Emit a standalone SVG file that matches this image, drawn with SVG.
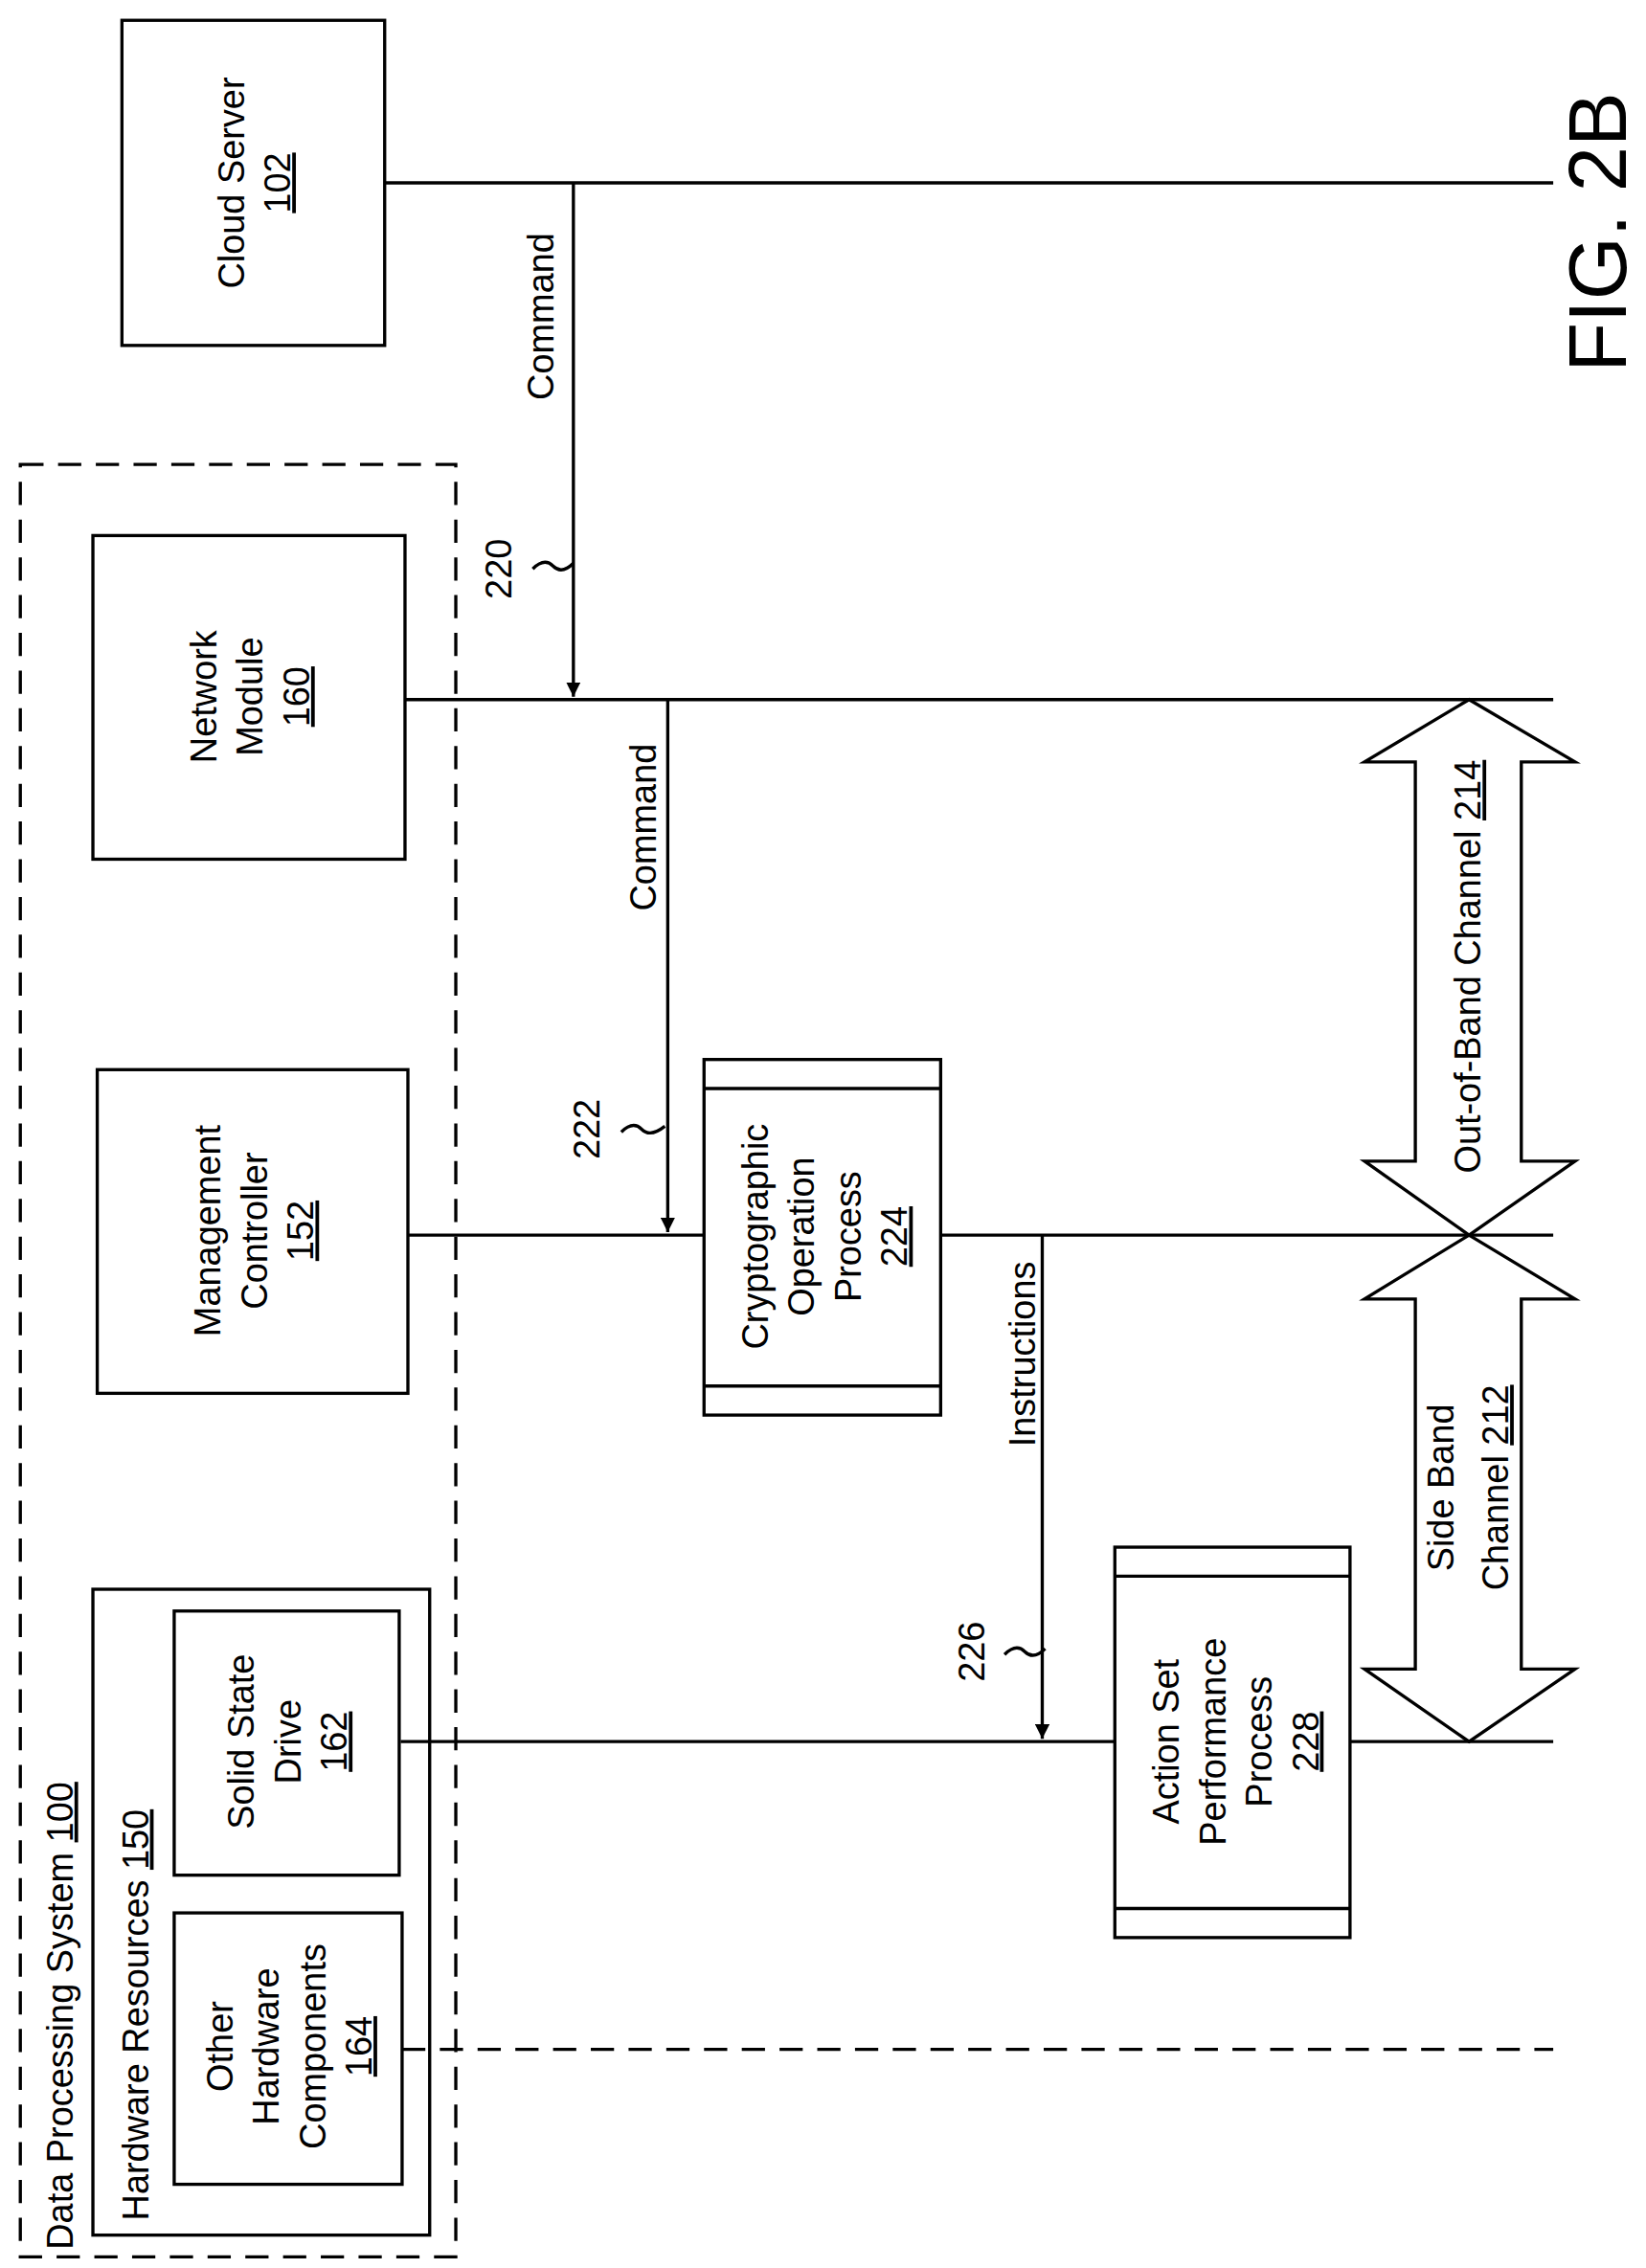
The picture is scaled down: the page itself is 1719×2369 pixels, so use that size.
<svg xmlns="http://www.w3.org/2000/svg" width="1719" height="2369" viewBox="0 0 1719 2369">
<style>
.b{fill:#fff;stroke:#000;stroke-width:2.2}
.l{fill:none;stroke:#000;stroke-width:2.2}
.d{fill:none;stroke:#000;stroke-width:2.2;stroke-dasharray:16 10}
text{font-family:"Liberation Sans",Arial,sans-serif;font-size:25px;fill:#000;text-anchor:middle}
.u{text-decoration:underline}
</style>
<defs><marker id="a" viewBox="0 0 10 10" refX="10" refY="5" markerWidth="10" markerHeight="10" markerUnits="userSpaceOnUse" orient="auto"><path d="M0,0 L10,5 L0,10 z"/></marker></defs>
<rect width="1719" height="2369" fill="#fff"/>
<g transform="scale(1.516)">
<g id="dps"><rect class="d" x="14" y="320" width="300" height="1235"/>
<text transform="translate(50,1555) rotate(-90)" style="text-anchor:start" x="5">Data Processing System <tspan class="u">100</tspan></text></g>
<g id="cloud"><rect class="b" x="84" y="14" width="181" height="224"/>
<text transform="translate(174,126) rotate(-90)"><tspan x="0" dy="-6">Cloud Server</tspan><tspan x="0" dy="32" class="u">102</tspan></text></g>
<g id="netmod"><rect class="b" x="64" y="369" width="215" height="223"/>
<text transform="translate(171,480) rotate(-90)"><tspan x="0" dy="-22">Network</tspan><tspan x="0" dy="32">Module</tspan><tspan x="0" dy="32" class="u">160</tspan></text></g>
<g id="mgmt"><rect class="b" x="67" y="737" width="214" height="223"/>
<text transform="translate(174,848) rotate(-90)"><tspan x="0" dy="-22">Management</tspan><tspan x="0" dy="32">Controller</tspan><tspan x="0" dy="32" class="u">152</tspan></text></g>
<g id="hw"><rect class="b" x="64" y="1095" width="232" height="445"/>
<text transform="translate(102,1535) rotate(-90)" style="text-anchor:start" x="5">Hardware Resources <tspan class="u">150</tspan></text></g>
<g id="ssd"><rect class="b" x="120" y="1110" width="155" height="182"/>
<text transform="translate(197,1200) rotate(-90)"><tspan x="0" dy="-22">Solid State</tspan><tspan x="0" dy="32">Drive</tspan><tspan x="0" dy="32" class="u">162</tspan></text></g>
<g id="other"><rect class="b" x="120" y="1318" width="157" height="187"/>
<text transform="translate(198,1410) rotate(-90)"><tspan x="0" dy="-38">Other</tspan><tspan x="0" dy="32">Hardware</tspan><tspan x="0" dy="32">Components</tspan><tspan x="0" dy="32" class="u">164</tspan></text></g>
<g id="crypto"><rect class="b" x="485" y="730" width="163" height="245"/><line class="l" x1="485" y1="750" x2="648" y2="750"/><line class="l" x1="485" y1="955" x2="648" y2="955"/>
<text transform="translate(567,852) rotate(-90)"><tspan x="0" dy="-38">Cryptographic</tspan><tspan x="0" dy="32">Operation</tspan><tspan x="0" dy="32">Process</tspan><tspan x="0" dy="32" class="u">224</tspan></text></g>
<g id="action"><rect class="b" x="768" y="1066" width="162" height="269"/><line class="l" x1="768" y1="1086" x2="930" y2="1086"/><line class="l" x1="768" y1="1315" x2="930" y2="1315"/>
<text transform="translate(850,1200) rotate(-90)"><tspan x="0" dy="-38">Action Set</tspan><tspan x="0" dy="32">Performance</tspan><tspan x="0" dy="32">Process</tspan><tspan x="0" dy="32" class="u">228</tspan></text></g>
<g id="connectors">
<line class="l" x1="265" y1="126" x2="1070" y2="126"/>
<line class="l" x1="279" y1="482" x2="1070" y2="482"/>
<line class="l" x1="281" y1="851" x2="485" y2="851"/>
<line class="l" x1="648" y1="851" x2="1070" y2="851"/>
<line class="l" x1="276" y1="1200" x2="768" y2="1200"/>
<line class="l" x1="930" y1="1200" x2="1070" y2="1200"/>
<line class="d" x1="277" y1="1412" x2="1070" y2="1412"/>
<line class="l" x1="395" y1="126" x2="395" y2="480" marker-end="url(#a)"/>
<line class="l" x1="460" y1="482" x2="460" y2="849" marker-end="url(#a)"/>
<line class="l" x1="718" y1="851" x2="718" y2="1198" marker-end="url(#a)"/>
<text transform="translate(381,218) rotate(-90)">Command</text>
<text transform="translate(452,570) rotate(-90)">Command</text>
<text transform="translate(713,933) rotate(-90)">Instructions</text>
<text transform="translate(352,392) rotate(-90)">220</text>
<path class="l" d="M367,392 q8,-8 14,-2 q6,6 14,-2"/>
<text transform="translate(413,778) rotate(-90)">222</text>
<path class="l" d="M428,780 q8,-8 14,-2 q6,6 16,-2"/>
<text transform="translate(678,1138) rotate(-90)">226</text>
<path class="l" d="M692,1140 q8,-8 14,-2 q6,6 14,-2"/>
<path class="b" d="M1012,482 L1085,525 L1048,525 L1048,800 L1085,800 L1012,851 L940,800 L975,800 L975,525 L940,525 Z"/>
<path class="b" d="M1012,851 L1085,895 L1048,895 L1048,1150 L1085,1150 L1012,1200 L940,1150 L975,1150 L975,895 L940,895 Z"/>
<text transform="translate(1020,666) rotate(-90)">Out-of-Band Channel <tspan class="u">214</tspan></text>
<text transform="translate(1011,1025) rotate(-90)"><tspan x="0" dy="-10">Side Band</tspan><tspan x="0" dy="38">Channel <tspan class="u">212</tspan></tspan></text>
</g>
<text transform="translate(1120,160) rotate(-90)" style="font-size:56px">FIG. 2B</text>
</g>
</svg>
